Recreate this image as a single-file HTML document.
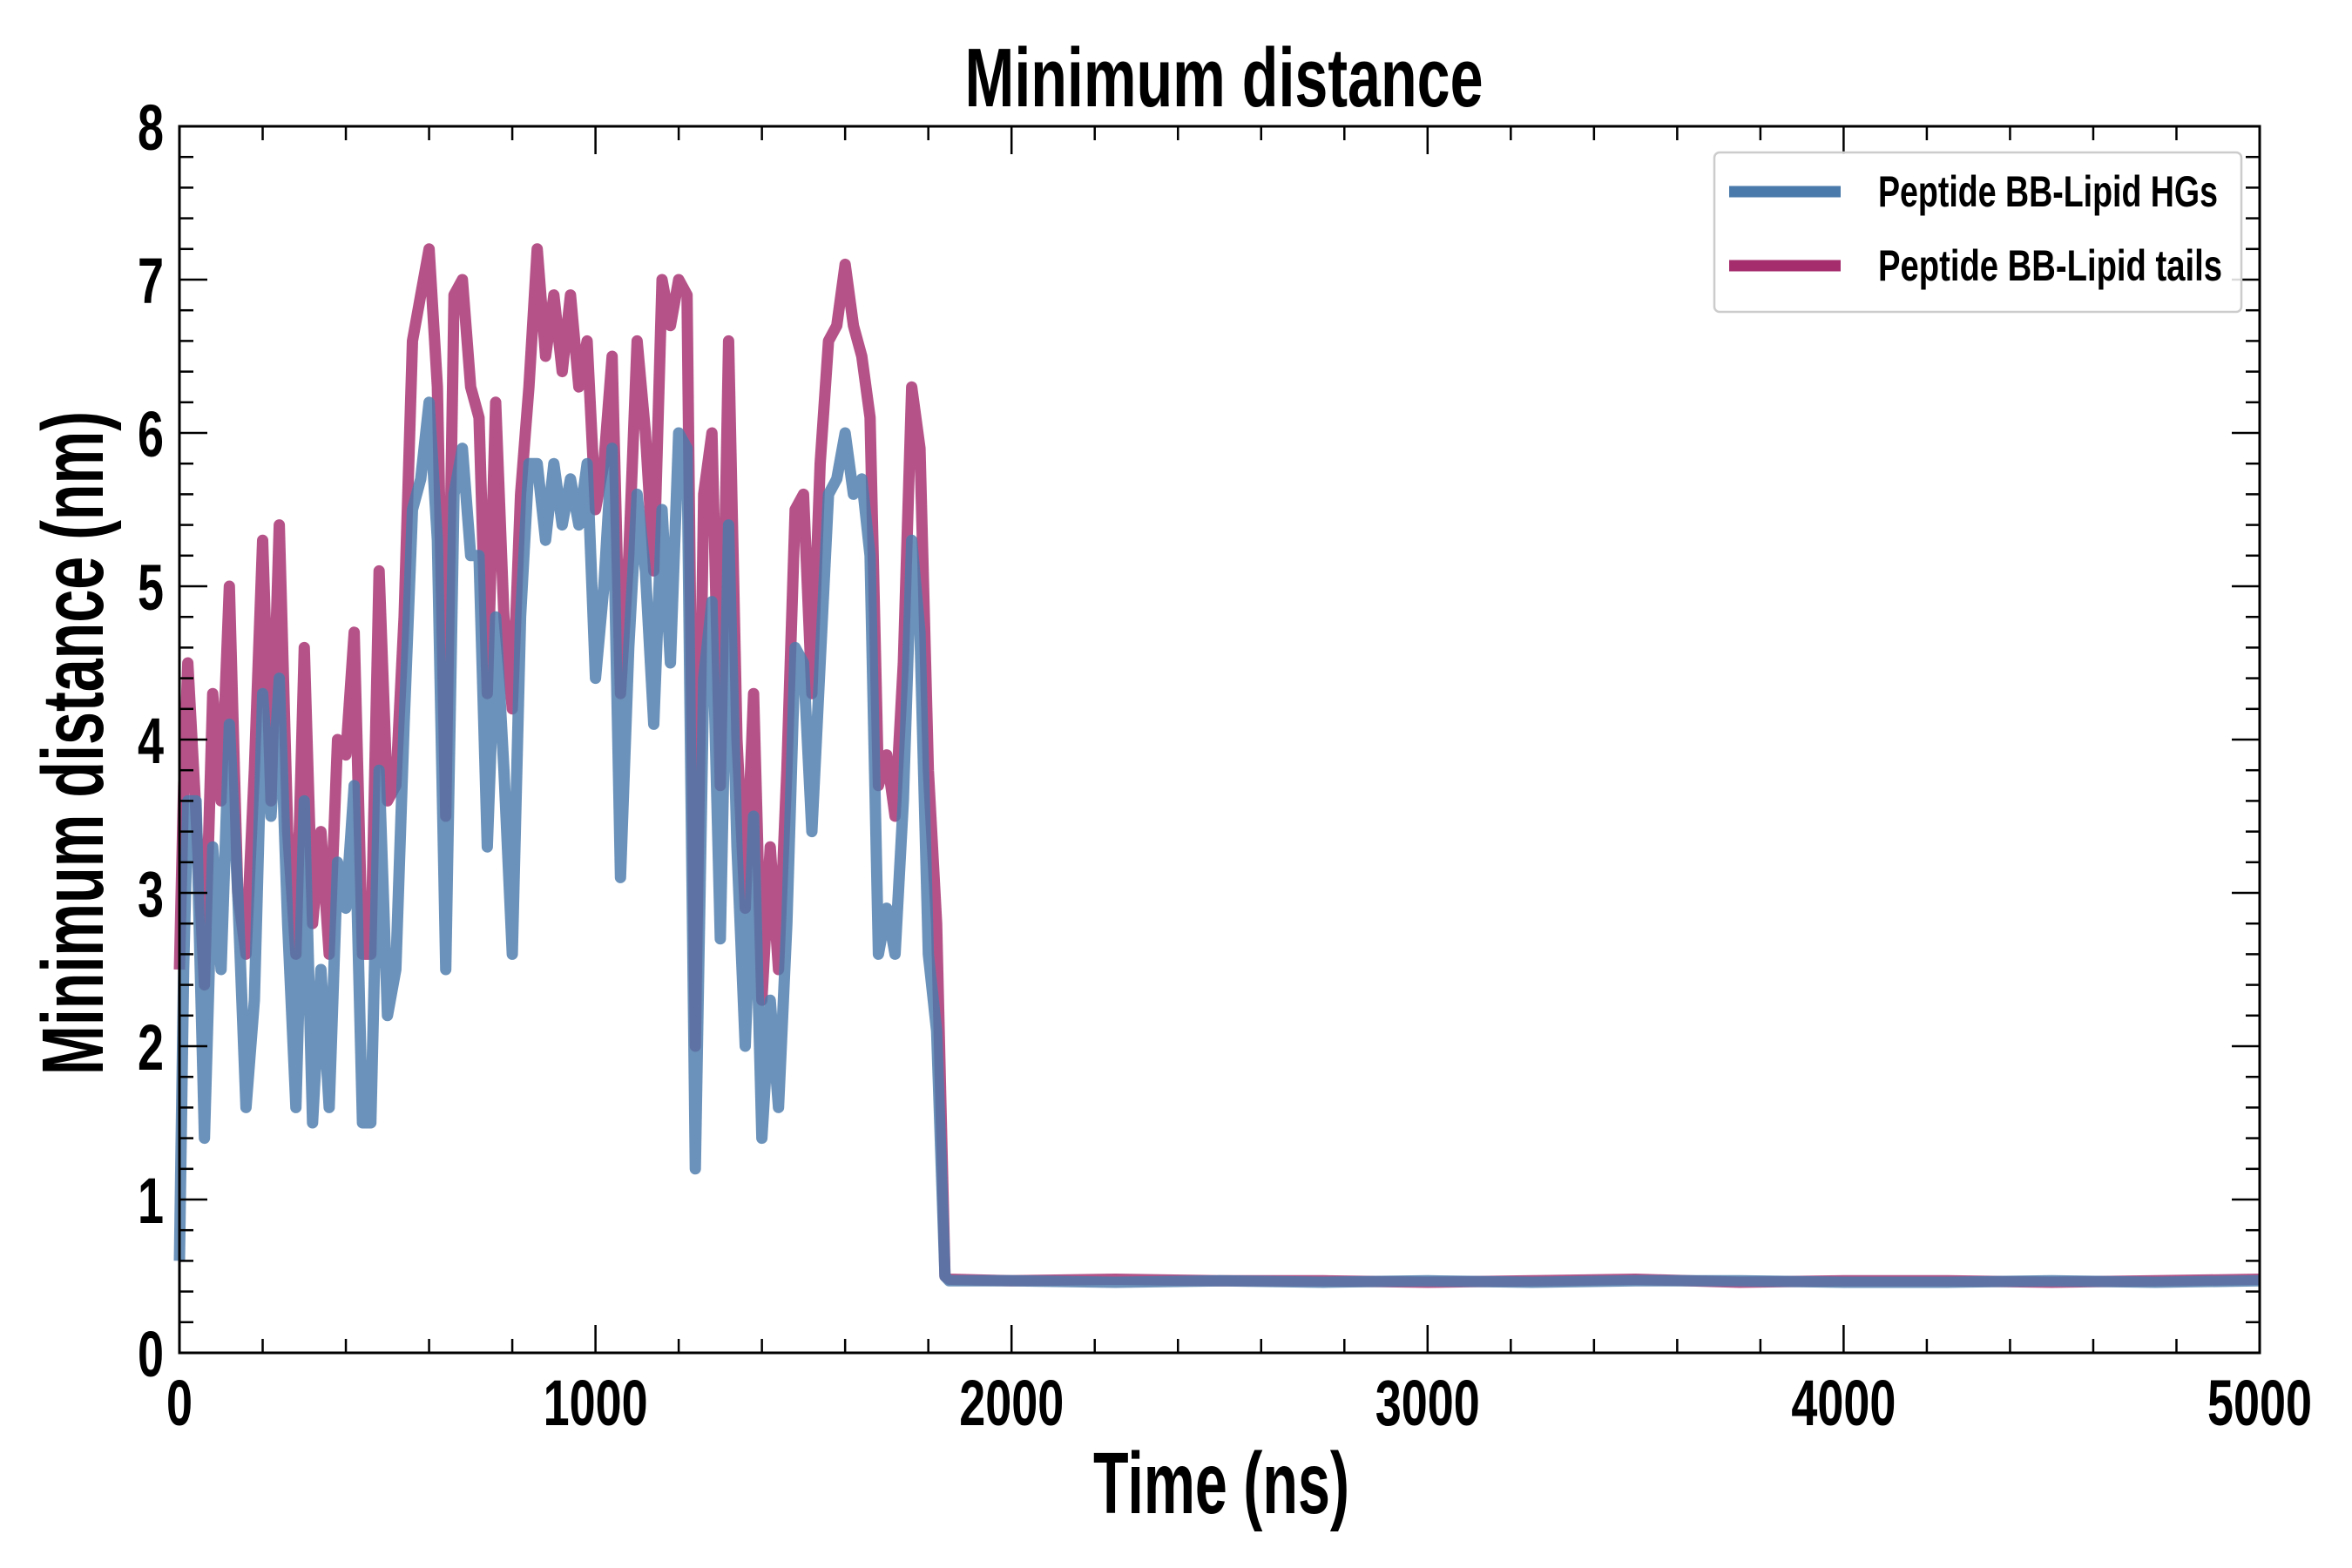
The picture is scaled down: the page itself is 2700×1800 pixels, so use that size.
<!DOCTYPE html>
<html><head><meta charset="utf-8"><style>
html,body{margin:0;padding:0;background:#fff}
svg{display:block}
text{font-family:"Liberation Sans Narrow","Liberation Sans",sans-serif;font-weight:bold;fill:#000}
</style></head><body>
<svg id="chart" width="2700" height="1800" viewBox="0 0 2700 1800" xmlns="http://www.w3.org/2000/svg">
<rect width="2700" height="1800" fill="#fff"/>
<g id="plot"></g>
</svg>
<script>
const timesEarly=[0,10,20,40,60,80,100,120,140,160,180,200,220,240,260,280,300,320,340,360,380,400,420,440,460,480,500,520,540,560,580,600,620,640,660,680,700,720,740,760,780,800,820,840,860,880,900,920,940,960,980,1000,1020,1040,1060,1080,1100,1120,1140,1160,1180,1200,1220,1240,1260,1280,1300,1320,1340,1360,1380,1400,1420,1440,1460,1480,1500,1520,1540,1560,1580,1600,1620,1640,1660,1680,1700,1720,1740,1760,1780,1800,1820,1840];
const hgsEarly=[0.6,2.5,3.6,3.6,1.4,3.3,2.5,4.1,3.0,1.6,2.3,4.3,3.5,4.4,2.8,1.6,3.6,1.5,2.5,1.6,3.2,2.9,3.7,1.5,1.5,3.8,2.2,2.5,4.1,5.5,5.7,6.2,5.3,2.5,5.6,5.9,5.2,5.2,3.3,4.8,3.8,2.6,4.8,5.8,5.8,5.3,5.8,5.4,5.7,5.4,5.8,4.4,5.0,5.9,3.1,4.6,5.6,5.1,4.1,5.5,4.5,6.0,5.9,1.2,4.4,4.9,2.7,5.4,3.3,2.0,3.5,1.4,2.3,1.6,2.8,4.6,4.5,3.4,4.5,5.6,5.7,6.0,5.6,5.7,5.2,2.6,2.9,2.6,3.6,5.3,4.7,2.6,2.1,0.5];
const tailsEarly=[2.5,3.7,4.5,3.5,2.4,4.3,3.6,5.0,3.0,2.6,3.8,5.3,3.6,5.4,3.4,2.6,4.6,2.8,3.4,2.6,4.0,3.9,4.7,2.6,2.6,5.1,3.6,3.7,4.8,6.6,6.9,7.2,6.3,3.5,6.9,7.0,6.3,6.1,4.3,6.2,4.8,4.2,5.6,6.3,7.2,6.5,6.9,6.4,6.9,6.3,6.6,5.5,5.8,6.5,4.3,5.2,6.6,6.0,5.1,7.0,6.7,7.0,6.9,2.0,5.6,6.0,3.7,6.6,4.0,2.9,4.3,2.3,3.3,2.5,3.8,5.5,5.6,4.3,5.8,6.6,6.7,7.1,6.7,6.5,6.1,3.7,3.9,3.5,4.5,6.3,5.9,3.8,2.8,0.5];
const timesLate=[1850,2000,2250,2500,2750,3000,3250,3500,3750,4000,4250,4500,4750,5000];
const hgsLate=[0.47,0.47,0.46,0.47,0.46,0.47,0.46,0.47,0.47,0.46,0.46,0.47,0.46,0.47];
const tailsLate=[0.48,0.47,0.48,0.47,0.47,0.46,0.47,0.48,0.46,0.47,0.47,0.46,0.47,0.48];
const xTickLabels=["0","1000","2000","3000","4000","5000"];
const yTickLabels=["0","1","2","3","4","5","6","7","8"];

const L=206,R=2594,T=145,B=1553;
const xs=t=>L+t/5000*(R-L);
const ys=v=>B-v/8*(B-T);
const NS="http://www.w3.org/2000/svg";
const g=document.getElementById('plot');
function mk(tag,attrs,parent){const e=document.createElementNS(NS,tag);for(const k in attrs)e.setAttribute(k,attrs[k]);(parent||g).appendChild(e);return e;}

function series(times,vals,color,name){
  const d=times.map((t,i)=>(i?'L':'M')+xs(t).toFixed(1)+','+ys(vals[i]).toFixed(1)).join(' ');
  const p=mk('path',{d:d,fill:'none',stroke:color,'stroke-width':13,'stroke-linejoin':'round','stroke-opacity':0.82});
  
  
}
series(timesEarly.concat(timesLate),tailsEarly.concat(tailsLate),'#a52d6e','series-lipid-tails');
series(timesEarly.concat(timesLate),hgsEarly.concat(hgsLate),'#4a7aab','series-lipid-hgs');

for(let t=0;t<=5000;t+=200){
  const major=t%1000===0, len=major?32:16, x=xs(t);
  const a=mk('line',{x1:x,x2:x,y1:B,y2:B-len,stroke:'#000','stroke-width':2.5});
  
  
  const b=mk('line',{x1:x,x2:x,y1:T,y2:T+len,stroke:'#000','stroke-width':2.5});
  
  
}
for(let i=0;i<=40;i++){
  const v=i*0.2, major=i%5===0, len=major?32:16, y=ys(v);
  const a=mk('line',{x1:L,x2:L+len,y1:y,y2:y,stroke:'#000','stroke-width':2.5});
  
  
  const b=mk('line',{x1:R,x2:R-len,y1:y,y2:y,stroke:'#000','stroke-width':2.5});
  
  
}
const frame=mk('rect',{x:L,y:T,width:R-L,height:B-T,fill:'none',stroke:'#000','stroke-width':3});



xTickLabels.forEach((s,i)=>{
  const tx=mk('text',{x:xs(i*1000),y:1636,'font-size':74,'text-anchor':'middle',textLength:s.length*30,lengthAdjust:'spacingAndGlyphs'});
  tx.textContent=s;
  
  
});
yTickLabels.forEach((s,i)=>{
  const tx=mk('text',{x:188,y:ys(i)+27,'font-size':74,'text-anchor':'end',textLength:30,lengthAdjust:'spacingAndGlyphs'});
  tx.textContent=s;
  
  
});

const title=mk('text',{x:1405,y:122,'font-size':96,'text-anchor':'middle',textLength:595,lengthAdjust:'spacingAndGlyphs'});
title.textContent='Minimum distance';


const xl=mk('text',{x:1402,y:1737,'font-size':100,'text-anchor':'middle',textLength:294,lengthAdjust:'spacingAndGlyphs'});
xl.textContent='Time (ns)';


const yl=mk('text',{x:0,y:0,'font-size':100,'text-anchor':'middle',textLength:762,lengthAdjust:'spacingAndGlyphs',transform:'translate(118,853) rotate(-90)'});
yl.textContent='Minimum distance (nm)';



const lg=mk('g',{});


mk('rect',{x:1968,y:175,width:605,height:183,rx:6,fill:'#fff','fill-opacity':0.85,stroke:'#ccc','stroke-width':2.5},lg);
[['Peptide BB-Lipid HGs','#4a7aab',220,390],['Peptide BB-Lipid tails','#a52d6e',305,395]].forEach(e=>{
  const ent=mk('g',{},lg);
  
  
  mk('line',{x1:1985,x2:2113,y1:e[2],y2:e[2],stroke:e[1],'stroke-width':13},ent);
  const t=mk('text',{x:2156,y:e[2]+17,'font-size':50,textLength:e[3],lengthAdjust:'spacingAndGlyphs'},ent);
  t.textContent=e[0];
});
</script>
</body></html>
